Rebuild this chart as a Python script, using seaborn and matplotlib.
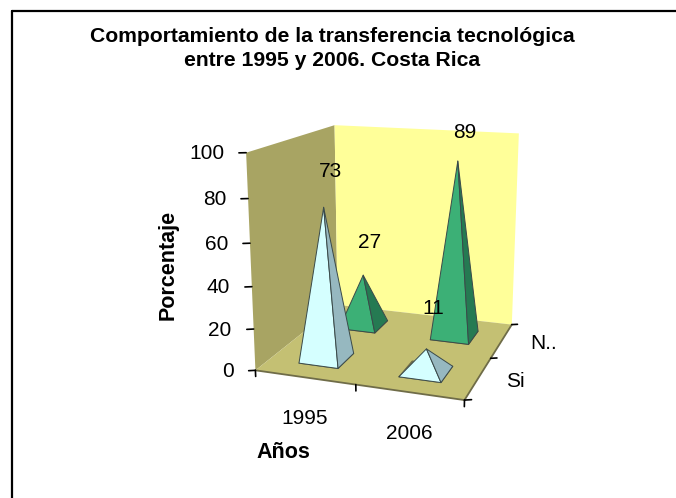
import matplotlib
matplotlib.use("Agg")
import matplotlib.pyplot as plt
import seaborn as sns
import pandas as pd
from mpl_toolkits.mplot3d import proj3d
from mpl_toolkits.mplot3d.art3d import Poly3DCollection

years = ["1995", "2006"]
series = ["Si", "N.."]
si_values = [73, 11]
no_values = [27, 89]
z_ticks = [0, 20, 40, 60, 80, 100]

df = pd.DataFrame({"year": [0, 1, 0, 1], "serie": [0, 0, 1, 1],
                   "value": si_values + no_values})

sns.set_theme(style="white")
plt.rcParams['font.family'] = ['Liberation Sans', 'DejaVu Sans']

W, H = 676, 498
fig = plt.figure(figsize=(W / 100, H / 100), dpi=100, facecolor="white")
# only the top and left of the chart border are inside the picture
fig.add_artist(plt.Line2D([12 / W, 12 / W], [0, 1 - 11.5 / H], color="black", lw=1.6))
fig.add_artist(plt.Line2D([12 / W, 1], [1 - 11.5 / H, 1 - 11.5 / H], color="black", lw=1.6))

ax = fig.add_axes([135.5 / W, 1 - 504 / H, 500 / W, 500 / H], projection="3d", computed_zorder=False)
ax.set_proj_type("persp", focal_length=0.33)
ax.view_init(elev=15, azim=-71)
ax.set_box_aspect((1.15, 1.15, 1.17), zoom=0.70)
ax.set_xlim(0, 2)
ax.set_ylim(0, 2)
ax.set_zlim(0, 100)
ax.set_xticks([])
ax.set_yticks([])
ax.set_zticks([])
ax.set_axis_off()
ax.patch.set_alpha(0)


def label3d(x, y, z, text, dx, dy, ha="center"):
    # text anchored on a 3d point, shifted in pixels on screen
    px, py, _ = proj3d.proj_transform(x, y, z, ax.get_proj())
    ax.annotate(text, xy=(px, py), xytext=(dx, dy), textcoords="offset pixels", ha=ha, va="center",
                fontsize=15, color="black", zorder=9, annotation_clip=False)


# walls and floor
ax.add_collection3d(Poly3DCollection([[(0, 0, 0), (0, 2, 0), (0, 2, 100), (0, 0, 100)]],
                                     facecolor="#a8a463", edgecolor="none", zorder=1))
ax.add_collection3d(Poly3DCollection([[(0, 2, 0), (2, 2, 0), (2, 2, 100), (0, 2, 100)]],
                                     facecolor="#ffff99", edgecolor="none", zorder=1))
ax.add_collection3d(Poly3DCollection([[(0, 0, 0), (2, 0, 0), (2, 2, 0), (0, 2, 0)]],
                                     facecolor="#c4c073", edgecolor="none", zorder=2))
ax.plot([0, 2, 2], [0, 0, 2], [0, 0, 0], color="#6f6c48", lw=1.3, zorder=3)

# ticks
for z in z_ticks:
    ax.plot([0, -0.055], [0, -0.028], [z, z], color="black", lw=1.2, zorder=3)
    label3d(0, 0, z, str(z), -22, -1, ha="right")
for x in [0, 1, 2]:
    ax.plot([x, x], [0, 0], [0, -3], color="black", lw=1.2, zorder=3)
for y in [0, 1, 2]:
    ax.plot([2, 2.055], [y, y + 0.028], [0, 0], color="black", lw=1.2, zorder=3)
for i, lab in enumerate(years):
    label3d(i + 0.5, 0, 0, lab, 0, -41)
for i, lab in enumerate(series):
    label3d(2, i + 0.5, 0, lab, 28, -3, ha="left")

# pyramids, back row first
half = 0.2
styles = {0: ("#d5ffff", "#96b8c0"), 1: ("#3cb076", "#257a52")}
label_lift = {73: 35, 27: 32, 89: 28, 11: 40}
for _, row in df.sort_values(["serie", "year"], ascending=[False, True]).iterrows():
    cx, cy = row["year"] + 0.5, row["serie"] + 0.5
    tip = (cx, cy, row["value"])
    a = (cx - half, cy - half, 0)
    b = (cx + half, cy - half, 0)
    c = (cx + half, cy + half, 0)
    d = (cx - half, cy + half, 0)
    front, side = styles[int(row["serie"])]
    order = 4 + (1 - row["serie"]) * 2
    ax.add_collection3d(Poly3DCollection([[a, b, c, d]], facecolor="#6f6c48", edgecolor="#6f6c48",
                                         linewidth=0.8, zorder=order))
    ax.add_collection3d(Poly3DCollection([[a, b, tip]], facecolor=front, edgecolor="#3a4a4a",
                                         linewidth=0.7, zorder=order))
    ax.add_collection3d(Poly3DCollection([[b, c, tip]], facecolor=side, edgecolor="#3a4a4a",
                                         linewidth=0.7, zorder=order))
    label3d(cx, cy, row["value"], str(int(row["value"])), 7, label_lift[int(row["value"])])

fig.text(332 / W, 1 - 37 / H, "Comportamiento de la transferencia tecnológica", ha="center", va="center",
         fontsize=15.2, fontweight="bold", color="black")
fig.text(332 / W, 1 - 60 / H, "entre 1995 y 2006. Costa Rica", ha="center", va="center",
         fontsize=15.2, fontweight="bold", color="black")
fig.text(168 / W, 1 - 265 / H, "Porcentaje", rotation=90, ha="center", va="center",
         fontsize=15.5, fontweight="bold", color="black")
fig.text(283 / W, 1 - 452 / H, "Años", ha="center", va="center",
         fontsize=15.5, fontweight="bold", color="black")

fig.savefig("out.png", dpi=100)
